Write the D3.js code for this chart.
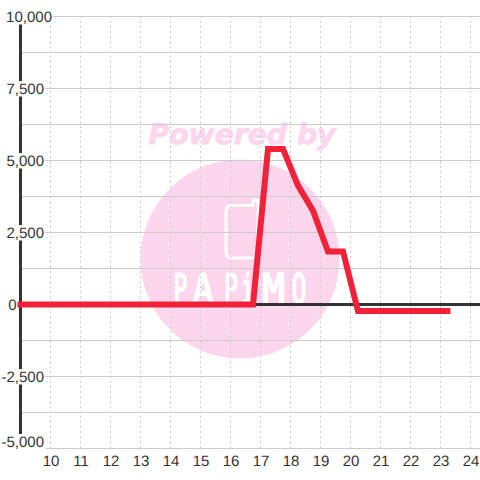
<!DOCTYPE html>
<html><head><meta charset="utf-8">
<script src="https://cdnjs.cloudflare.com/ajax/libs/d3/7.8.5/d3.min.js"></script>
<style>html,body{margin:0;padding:0;background:#fff}svg{display:block}text{text-rendering:geometricPrecision}</style></head>
<body><svg id="c" width="480" height="480"></svg>
<script>
const xTicks=[10,11,12,13,14,15,16,17,18,19,20,21,22,23,24];
const yLabels=[10000,7500,5000,2500,0,-2500,-5000];
const yGrid=[10000,8750,7500,6250,5000,3750,2500,1250,0,-1250,-2500,-3750,-5000];
const hours=[8.9,16.75,17.25,17.75,18.25,18.75,19.25,19.75,20.25,20.75,21.25,21.75,22.25,22.75,23.33];
const values=[0,0,5400,5400,4130,3260,1840,1840,-230,-230,-230,-230,-230,-230,-230];
const logoLetters=['P','A','P','i','M','O'];
const svg=d3.select('#c');
const x=d3.scaleLinear().domain([10,24]).range([50.5,470.5]);
const y=d3.scaleLinear().domain([-5000,10000]).range([448.5,16.5]);
const pink='#fcd6ed';
// watermark
const wm=svg.append('g');
wm.append('circle').attr('cx',240).attr('cy',259).attr('r',99.5).attr('fill',pink);
wm.append('text').text('Powered by').attr('x',148.5).attr('y',144).attr('textLength',187).attr('lengthAdjust','spacingAndGlyphs')
 .attr('font-family','DejaVu Sans').attr('font-weight','bold').attr('font-style','italic').attr('font-size',28).attr('fill',pink).attr('stroke',pink).attr('stroke-width',0.8);
wm.append('path').attr('d','M232 205.5H253V202.5Q253 200 255.5 200Q258 200 258 202.5V252Q258 258 252 258H232Q226 258 226 252V211.5Q226 205.5 232 205.5Z')
 .attr('fill','none').attr('stroke','#fff').attr('stroke-width',3);
const lx=[180.5,203,231,247.5,273.5,299], lsx=[1.05,1.6,1.05,1,1.7,1.1];
logoLetters.forEach((c,i)=>{
 wm.append('text').text(c).attr('text-anchor','middle')
  .attr('transform',`translate(${lx[i]},303) scale(${lsx[i]},1.85)`)
  .attr('font-family','DejaVu Sans Mono').attr('font-size',22).attr('fill','#fff').attr('stroke','#fff').attr('stroke-width',1);
});
// grid
svg.append('g').selectAll('line').data(xTicks).join('line')
 .attr('x1',d=>x(d)).attr('x2',d=>x(d)).attr('y1',16).attr('y2',448)
 .attr('stroke','#ccc').attr('stroke-dasharray','2 3');
svg.append('g').selectAll('line').data(yGrid).join('line')
 .attr('x1',20).attr('x2',480).attr('y1',d=>y(d)).attr('y2',d=>y(d))
 .attr('stroke','#ccc');
// axis lines
const axisColor='#333';
svg.append('line').attr('x1',20.5).attr('x2',20.5).attr('y1',16).attr('y2',448).attr('stroke',axisColor).attr('stroke-width',3);
svg.append('line').attr('x1',20).attr('x2',480).attr('y1',y(0)).attr('y2',y(0)).attr('stroke',axisColor).attr('stroke-width',3);
// labels
const yl=svg.append('g');
const fmt=v=>d3.format(',')(v).replace('\u2212','-');
const anchorX=v=>v===10000?52:v===0?16.5:44;
const base=v=>v===-5000?447:y(v)+5.5;
yLabels.forEach(v=>{
 const t=yl.append('text').text(fmt(v)).attr('x',anchorX(v)).attr('y',base(v)).attr('text-anchor','end')
  .attr('font-family','Liberation Sans').attr('font-size',15).attr('fill','#333');
 const b=t.node().getBBox();
 yl.insert('rect','text').attr('x',b.x-1).attr('y',base(v)-13).attr('width',b.width+2.5).attr('height',15.5).attr('fill','#fff');
});
// series
svg.append('path').datum(hours.map((h,i)=>[h,values[i]]))
 .attr('d',d3.line().x(d=>x(d[0])).y(d=>y(d[1])))
 .attr('fill','none').attr('stroke','#f02138').attr('stroke-width',6).attr('stroke-linejoin','miter');
const xl=svg.append('g');
xTicks.forEach(v=>{
 xl.append('text').text(v).attr('x',x(v)+0.5).attr('y',466).attr('text-anchor','middle')
  .attr('font-family','Liberation Sans').attr('font-size',15).attr('fill','#333');
});
</script></body></html>
